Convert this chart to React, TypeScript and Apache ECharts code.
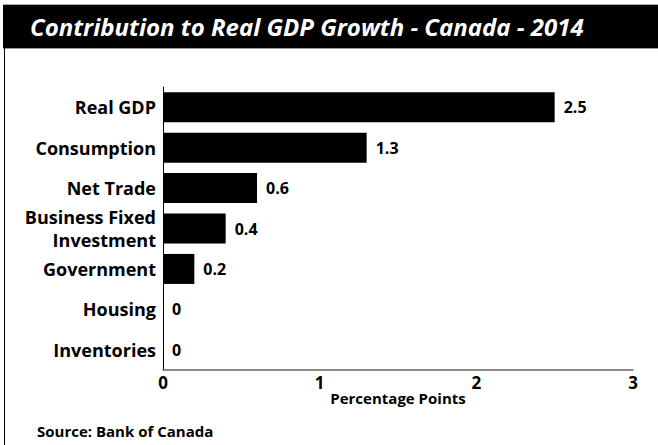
import React, { useEffect, useRef } from "react";
import * as echarts from "echarts";

const categories = [
  "Real GDP",
  "Consumption",
  "Net Trade",
  "Business Fixed\nInvestment",
  "Government",
  "Housing",
  "Inventories",
];
const values = [2.5, 1.3, 0.6, 0.4, 0.2, 0, 0];
const xTicks = [0, 1, 2, 3];

const FONT = "'Open Sans', sans-serif";

export default function App() {
  const ref = useRef<HTMLDivElement>(null);
  useEffect(() => {
    if (!ref.current) return;
    const chart = echarts.init(ref.current, null, { renderer: "svg" });
    chart.setOption({
      animation: false,
      backgroundColor: "#ffffff",
      graphic: [
        { type: "rect", shape: { x: 3, y: 4, width: 655, height: 45 }, style: { fill: "#000" }, silent: true },
        { type: "line", shape: { x1: 3, y1: 4.5, x2: 658, y2: 4.5 }, style: { stroke: "#aaa", lineWidth: 1 }, silent: true },
        { type: "line", shape: { x1: 3, y1: 48.5, x2: 658, y2: 48.5 }, style: { stroke: "#999", lineWidth: 1 }, silent: true },
        { type: "line", shape: { x1: 4.5, y1: 48, x2: 4.5, y2: 445 }, style: { stroke: "#000", lineWidth: 1 }, silent: true },
      ],
      title: [
        {
          text: "Contribution to Real GDP Growth - Canada - 2014",
          left: 25,
          top: 9,
          textStyle: { color: "#fff", fontFamily: FONT, fontWeight: "bold", fontStyle: "italic", fontSize: 24 },
        },
        {
          text: "Source: Bank of Canada",
          left: 32,
          top: 418,
          textStyle: { color: "#000", fontFamily: FONT, fontWeight: "bold", fontSize: 15 },
        },
      ],
      grid: { left: 163, right: 25, top: 87, bottom: 75, containLabel: false },
      xAxis: {
        type: "value",
        min: 0,
        max: xTicks[xTicks.length - 1],
        interval: 1,
        splitLine: { show: false },
        axisTick: { show: false },
        axisLine: { show: true, lineStyle: { color: "#666", width: 1.5 } },
        axisLabel: { color: "#000", fontFamily: FONT, fontWeight: "bold", fontSize: 17, margin: 4 },
        name: "Percentage Points",
        nameLocation: "middle",
        nameGap: 20,
        nameMoveOverlap: false,
        nameTextStyle: { color: "#000", fontFamily: FONT, fontWeight: "bold", fontSize: 15 },
      },
      yAxis: {
        type: "category",
        data: categories,
        inverse: true,
        axisTick: { show: false },
        axisLine: { show: true, lineStyle: { color: "#000", width: 1 } },
        axisLabel: {
          color: "#000",
          fontFamily: FONT,
          fontWeight: "bold",
          fontSize: 18,
          margin: 7,
          lineHeight: 23,
        },
      },
      series: [
        {
          type: "bar",
          data: values,
          barWidth: 30,
          itemStyle: { color: "#000" },
          label: {
            show: true,
            position: "right",
            distance: 9,
            color: "#000",
            fontFamily: FONT,
            fontWeight: "bold",
            fontSize: 16,
            formatter: (p: any) => String(p.value),
          },
        },
      ],
    });
    return () => chart.dispose();
  }, []);
  return (
    <div
      ref={ref}
      style={{ position: "fixed", left: 0, top: 0, width: 658, height: 445 }}
    />
  );
}
